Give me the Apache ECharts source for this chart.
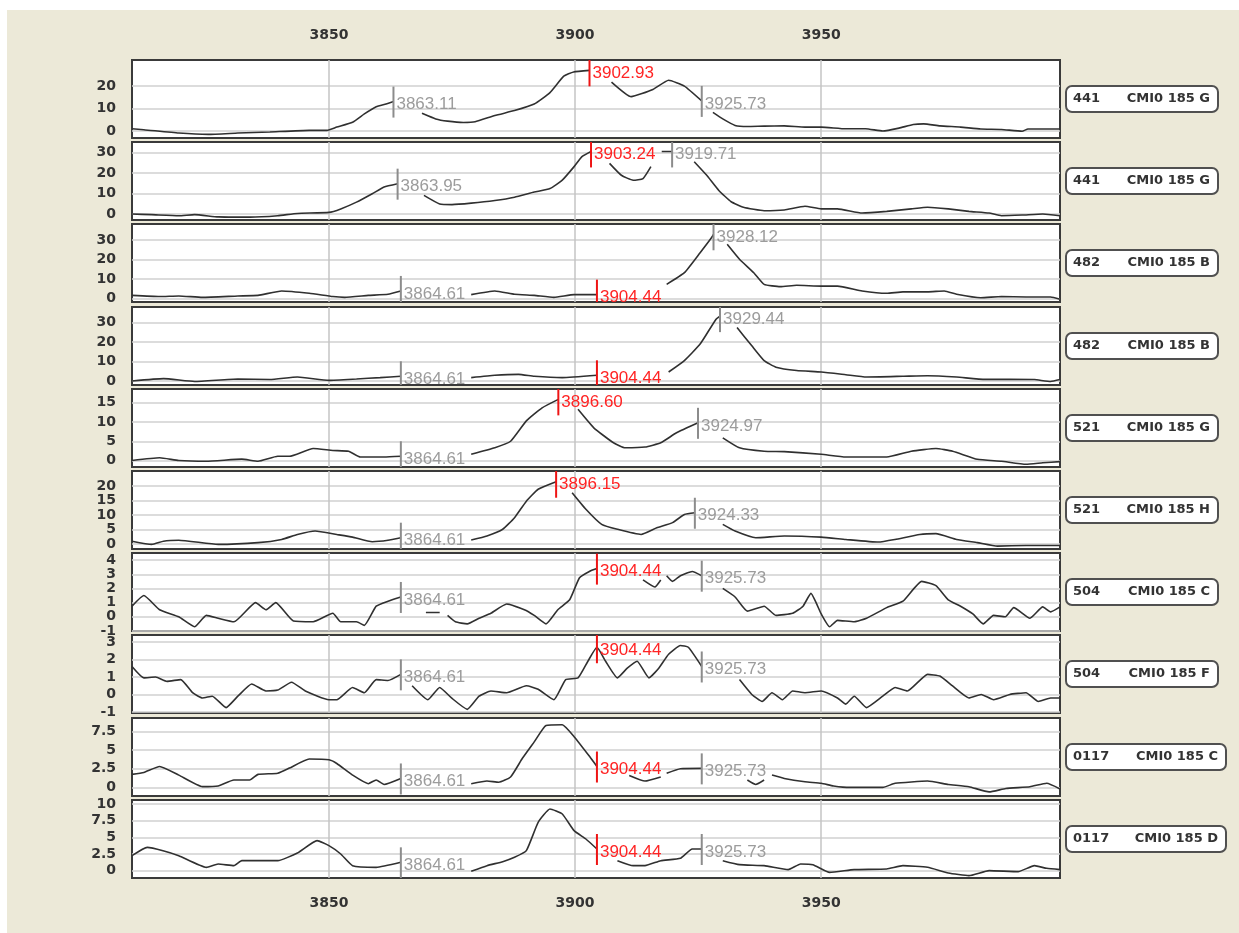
<!DOCTYPE html>
<html><head><meta charset="utf-8">
<script src="https://cdn.jsdelivr.net/npm/echarts@6/dist/echarts.min.js"></script>
<style>html,body{margin:0;padding:0;background:#fff}#c{width:1239px;height:933px}</style>
</head><body><div id="c"></div><script>
// ---------- DATA ----------
const X_TICKS = [3850, 3900, 3950];

const P1_X = [3810,3812.4,3819.5,3825.5,3831.5,3838,3846,3849.6,3851.6,3854.8,3857.2,3859.6,3861.6,3863.11,3866,3868.9,3871.7,3874.1,3877.3,3879.7,3883.7,3887.7,3891.7,3894.9,3897.7,3899.7,3902.93,3905,3907.4,3911.4,3915.8,3919,3922.2,3925.73,3927,3928,3930,3932.5,3935,3938.4,3942.5,3946.7,3950,3955,3959,3962.5,3965.8,3968.7,3970.8,3974.1,3978.3,3982.4,3986.6,3990.8,3992,3998.5];
const P1_Y = [1.0,0.6,-0.9,-1.5,-0.9,-0.4,0.3,0.3,1.75,3.9,7.6,10.8,12.0,13.1,null,7.9,5.4,4.4,3.8,4.1,6.9,9.1,12.0,17.1,24.4,26.3,27.0,null,21.8,15.3,18.5,22.6,20.0,13.4,null,8.3,5.4,2.5,2.0,2.2,2.3,1.75,1.75,1.0,1.0,0,1.3,2.9,3.2,2.3,1.75,0.9,0.7,-0.1,0.9,0.9];

const P2_X = [3810,3814,3819.5,3822.7,3827.5,3834,3839.6,3843.6,3850,3852.4,3855.6,3858.8,3861.2,3863.95,3866,3869.3,3872.5,3875,3878.9,3883.7,3887.7,3891.7,3894.9,3897.4,3899.8,3901.4,3903.24,3905,3907,3909.4,3911.8,3913.8,3915.4,3916.5,3917.6,3919.71,3922,3924.2,3926.7,3929.2,3931.7,3934.2,3938.4,3942.5,3946.7,3950,3953.3,3958.3,3963.3,3968.3,3971.6,3975.8,3980,3984.1,3986.6,3990.8,3995,3998.5];
const P2_Y = [0,-0.3,-0.8,-0.3,-1.4,-1.5,-0.8,0.3,0.8,2.5,5.8,9.9,13.2,14.8,null,9.1,4.9,4.6,5.3,6.6,8.2,10.7,12.4,16.5,23.1,28.0,30.5,null,24.7,18.9,16.5,17.3,23.1,null,30.5,30.5,null,25.5,19,11.5,6,3.3,1.6,2.0,3.8,2.5,2.5,0.5,1.3,2.5,3.3,2.5,1.3,0.5,-0.8,-0.5,0,-0.8];

const P3_X = [3810,3815.6,3819.5,3824.3,3831.5,3835.6,3840.4,3846,3850.8,3853.2,3858,3862,3864.61,3870,3878.9,3883.7,3887.7,3891.7,3895.7,3899.8,3904.44,3912,3918.6,3922.2,3925.4,3927.7,3928.12,3929.5,3930.9,3933.4,3936.3,3938.4,3941.7,3945,3950,3953.3,3958.3,3963.3,3966.6,3971.6,3975,3977.5,3982.4,3986.6,3991.6,3996.6,3998.5];
const P3_Y = [1.5,0.9,1.2,0.5,1.2,1.5,3.8,2.6,0.9,0.5,1.5,2.1,3.8,null,1.9,3.8,2.1,1.5,0.5,1.9,1.9,null,7.2,13.2,23.5,31.2,33,null,27.8,20.1,13.2,7.2,6.0,6.7,6.3,6.3,3.8,2.6,3.3,3.3,3.8,2.1,0.3,0.9,0.7,0.7,-0.5];

const P4_X = [3810,3816.4,3822.7,3831.5,3838,3843.6,3850,3855.6,3860.4,3864.61,3870,3878.9,3883.7,3888.5,3891.7,3897.4,3904.44,3912,3919,3922.2,3925.4,3928.6,3929.44,3931,3932.9,3935.9,3938.4,3940.8,3945,3950,3955,3959.2,3966.6,3971.6,3977.5,3983.3,3988.3,3993.3,3996.6,3998.5];
const P4_Y = [0,1.2,-0.3,1.0,0.7,2.0,0.3,1.0,1.7,2.4,null,1.7,2.9,3.4,2.4,1.7,2.9,null,4.6,10.5,19.0,31.7,33.4,null,27.5,18.1,10.5,7.1,5.4,4.6,3.2,2.0,2.4,2.7,2.0,0.8,0.8,0.7,-0.3,0.7];

const P5_X = [3810,3815.6,3819.5,3825.1,3832.3,3835.6,3839.6,3842,3846.8,3850.8,3854,3856.4,3861.2,3864.61,3870,3878.9,3883.7,3886.9,3890.1,3893.3,3896.6,3898.5,3900.6,3903.8,3907.8,3910.2,3914.2,3917.4,3920.6,3924.97,3927,3930,3933.4,3938.4,3942.5,3950,3955,3963.3,3968.3,3973.3,3976.7,3981.7,3986.6,3991.6,3995,3998.5];
const P5_Y = [0,0.7,0,-0.2,0.35,-0.2,1.1,1.1,3.1,2.6,2.4,0.9,0.9,1.1,null,1.6,3.3,5.0,10.3,13.7,15.9,null,13.3,8.5,4.6,3.3,3.5,4.6,7.2,9.8,null,5.9,3.3,2.4,2.3,1.6,0.9,0.9,2.4,3.1,2.4,0.3,-0.2,-1.0,-0.6,-0.3];

const P6_X = [3810,3814,3816.4,3819.5,3827.5,3835.6,3840.4,3843.6,3847.2,3851.6,3854.8,3858.8,3862,3864.61,3870,3878.9,3882.1,3885.3,3887.7,3890.1,3892.5,3896.15,3898,3899.4,3902.2,3905.4,3908.6,3913.4,3916.6,3919.8,3922.2,3924.33,3927,3930,3932.5,3936.7,3942.5,3950,3955,3961.6,3965,3970,3973.3,3977.5,3981.7,3985.8,3991.6,3998.5];
const P6_Y = [1.0,-0.1,1.0,1.3,-0.1,0.5,1.6,3.3,4.5,3.3,2.4,0.8,1.3,2.2,null,1.4,2.8,5.1,9.1,14.8,18.9,21.5,null,17.7,12.0,6.8,5.1,3.3,5.6,7.4,10.2,10.8,null,6.8,4.5,2.2,2.8,2.4,1.6,0.7,1.6,3.3,3.6,1.6,0.5,-0.7,-0.5,-0.5];

const P7_X = [3810,3812.4,3815.6,3819.5,3822.7,3825.1,3827.5,3830.7,3835.1,3837.2,3839.2,3842.8,3846.8,3850.8,3852.4,3855.6,3857.2,3859.6,3862,3864.61,3867,3869.7,3872.5,3873.3,3874.1,3875.7,3878.1,3880.5,3882.9,3886.1,3889.7,3891.7,3894.1,3896.5,3898.9,3900.9,3902.9,3904.44,3910,3913.8,3916.2,3917.4,3918,3918.6,3919.8,3921.4,3923.8,3925.73,3928,3930,3932.5,3935,3938.4,3940.8,3944.2,3946.3,3947.9,3950,3951.7,3953.3,3956.7,3959.2,3963.3,3966.6,3970.4,3973.3,3975.8,3978.3,3980.8,3982.9,3985,3987.4,3989.1,3992.4,3995,3996.6,3998.5];
const P7_Y = [0.75,1.5,0.5,0,-0.7,0.1,-0.1,-0.35,1.0,0.5,1.0,-0.3,-0.35,0.25,-0.35,-0.35,-0.6,0.75,1.1,1.4,null,0.3,0.3,null,0.1,-0.35,-0.5,-0.1,0.25,0.9,0.5,0.1,-0.5,0.5,1.2,2.75,3.2,3.4,null,2.6,2.1,2.6,null,2.9,2.5,2.9,3.2,2.9,null,2.0,1.4,0.4,0.75,0.1,0.25,0.75,1.65,0.2,-0.7,-0.25,-0.35,-0.1,0.65,1.1,2.5,2.2,1.2,0.75,0.2,-0.5,0.1,0,0.65,-0.1,0.7,0.35,0.7];

const P8_X = [3810,3812.4,3814.8,3817.1,3819.9,3822.3,3824.3,3826.3,3829.1,3831.5,3834.3,3837.2,3839.6,3842.4,3845.2,3850,3851.6,3854.8,3857.2,3859.6,3862,3864.61,3865.7,3866.9,3870.1,3872.5,3874.9,3878.1,3880.5,3882.9,3886.1,3890.1,3892.5,3895.7,3898.1,3900.6,3902.6,3904.44,3906.2,3908.6,3910.6,3912.6,3915,3917,3919,3921.4,3923,3925.73,3930,3933.4,3935.9,3938,3940,3942.1,3944.2,3946.7,3950,3953.3,3955,3956.7,3959.2,3962.5,3965,3967.5,3971.6,3974.1,3976.6,3980,3982.5,3985,3988.3,3991.6,3994.1,3996.6,3998.5];
const P8_Y = [1.6,0.95,1.0,0.75,0.85,0.1,-0.2,-0.1,-0.75,-0.1,0.6,0.2,0.25,0.7,0.2,-0.3,-0.3,0.4,0.1,0.85,0.8,1.15,null,0.5,-0.3,0.4,-0.2,-0.85,-0.1,0.2,0.1,0.5,0.3,-0.3,0.85,0.95,1.9,2.7,1.9,0.95,1.5,1.9,0.95,1.5,2.3,2.8,2.7,1.6,null,0.85,0,-0.4,0.1,-0.3,0.2,0.1,0.2,-0.2,-0.55,-0.1,-0.75,-0.1,0.4,0.2,1.15,1.05,0.5,-0.2,0,-0.3,0,0.1,-0.4,-0.2,-0.2];

const P9_X = [3810,3812.4,3815.6,3819.5,3824.3,3827.5,3830.7,3833.9,3835.6,3839.6,3842,3846,3850,3851.6,3854.8,3858,3859.6,3861.2,3864.61,3870,3878.9,3882.1,3884.5,3886.9,3889.3,3891.7,3894.1,3897.4,3899.8,3903,3904.44,3908,3911,3914.2,3917.4,3918,3918.6,3921.4,3925.73,3930,3935,3936.7,3938.4,3939.2,3940,3942.5,3946.7,3950,3952.5,3955.8,3962.5,3965,3971.6,3975.8,3980,3984.1,3987.5,3992.4,3995.8,3998.5];
const P9_Y = [1.75,2.0,2.8,1.65,0.1,0.2,1.0,1.0,1.75,1.9,2.6,3.8,3.7,3.2,1.65,0.5,1.0,0.4,1.2,null,0.5,0.85,0.7,1.4,3.9,6.1,8.3,8.4,6.8,4.1,2.8,null,1.6,0.85,1.4,null,1.9,2.5,2.55,null,1.0,0.4,1.0,null,1.65,1.2,0.75,0.55,0.2,0,0,0.55,0.85,0.4,0.1,-0.6,-0.15,0.1,0.55,-0.2];

const P10_X = [3810,3813.1,3816.3,3819.5,3825.1,3827.5,3830.7,3832.3,3835.6,3839.6,3843.6,3847.6,3850,3852.4,3854.8,3859.6,3864.61,3870,3878.9,3882.1,3885.3,3887.7,3890.1,3892.5,3894.9,3897.4,3899.8,3902.2,3904.44,3906,3908.6,3911.8,3914.2,3917.4,3921.4,3923.8,3925.73,3927,3930,3933.4,3938.4,3943.3,3945.8,3948.3,3951.7,3956.7,3963.3,3966.6,3971.6,3975.8,3980,3984.1,3990,3993.3,3995.8,3998.5];
const P10_Y = [2.25,3.5,3.0,2.25,0.5,1.0,0.75,1.5,1.5,1.5,2.65,4.5,3.75,2.5,0.75,0.5,1.25,null,-0.1,0.75,1.35,2.0,3.0,7.25,9.25,8.5,6.0,4.75,3.25,null,1.5,0.75,0.75,1.5,1.85,3.25,3.25,null,1.5,0.9,0.75,0.15,1.0,0.9,-0.25,0.15,0.25,0.75,0.5,-0.35,-0.75,0,-0.15,0.75,0.35,0.15];

// markers: [x position, curve value, 1 = red / 0 = gray]
const P1_MARKS = [[3863.11,13.1,0],[3902.93,27.0,1],[3925.73,13.4,0]];
const P2_MARKS = [[3863.95,14.8,0],[3903.24,30.5,1],[3919.71,30.5,0]];
const P3_MARKS = [[3864.61,3.8,0],[3904.44,1.9,1],[3928.12,33,0]];
const P4_MARKS = [[3864.61,2.4,0],[3904.44,2.9,1],[3929.44,33.4,0]];
const P5_MARKS = [[3864.61,1.1,0],[3896.60,15.9,1],[3924.97,9.8,0]];
const P6_MARKS = [[3864.61,2.2,0],[3896.15,21.5,1],[3924.33,10.8,0]];
const P7_MARKS = [[3864.61,1.4,0],[3904.44,3.4,1],[3925.73,2.9,0]];
const P8_MARKS = [[3864.61,1.15,0],[3904.44,2.7,1],[3925.73,1.6,0]];
const P9_MARKS = [[3864.61,1.2,0],[3904.44,2.8,1],[3925.73,2.55,0]];
const P10_MARKS = [[3864.61,1.25,0],[3904.44,3.25,1],[3925.73,3.25,0]];

const Y_TICKS = [[0,10,20],[0,10,20,30],[0,10,20,30],[0,10,20,30],[0,5,10,15],[0,5,10,15,20],[-1,0,1,2,3,4],[-1,0,1,2,3],[0,2.5,5,7.5],[0,2.5,5,7.5,10]];
const Y_RANGES = [[-3.1,31.6],[-2.9,35.1],[-1.9,38.3],[-2.1,38.1],[-1.7,18.6],[-1.7,25.2],[-1.0,4.5],[-1.06,3.4],[-1.15,9.3],[-1.1,10.6]];
const SAMPLE_IDS = ['441','441','482','482','521','521','504','504','0117','0117'];
const SAMPLE_NAMES = ['CMI0 185 G','CMI0 185 G','CMI0 185 B','CMI0 185 B','CMI0 185 G','CMI0 185 H','CMI0 185 C','CMI0 185 F','CMI0 185 C','CMI0 185 D'];

const XS = [P1_X,P2_X,P3_X,P4_X,P5_X,P6_X,P7_X,P8_X,P9_X,P10_X];
const YS = [P1_Y,P2_Y,P3_Y,P4_Y,P5_Y,P6_Y,P7_Y,P8_Y,P9_Y,P10_Y];
const MARKS = [P1_MARKS,P2_MARKS,P3_MARKS,P4_MARKS,P5_MARKS,P6_MARKS,P7_MARKS,P8_MARKS,P9_MARKS,P10_MARKS];

// ---------- LAYOUT ----------
const GRID_LEFT = 132, GRID_W = 928, GRID_H = 78;
const GRID_TOPS = [60,142,224,307,389,471,553,635,718,800];
const AXIS_FONT = 'DejaVu Sans';

const chart = echarts.init(document.getElementById('c'), null, {renderer:'canvas'});
const grids = [], xAxes = [], yAxes = [], series = [], graphics = [];

graphics.push({type:'rect', shape:{x:0,y:0,width:1239,height:10}, style:{fill:'#fff'}, silent:true});
graphics.push({type:'rect', shape:{x:0,y:0,width:7,height:933}, style:{fill:'#fff'}, silent:true});

function renderMarker(params, api){
  const xv = api.value(0);
  const p = api.coord([xv, api.value(1)]);
  const red = api.value(2) === 1;
  const txtCol = red ? '#ff2424' : '#9c9c9c';
  const lnCol = red ? '#ee1414' : '#8c8c8c';
  return {type:'group', children:[
    {type:'line', shape:{x1:p[0], y1:p[1]-15, x2:p[0], y2:p[1]+16}, style:{stroke:lnCol, lineWidth:2}},
    {type:'text', x:p[0]+3, y:p[1]+3, style:{text: xv.toFixed(2), fill:txtCol, font:'17px "Liberation Sans"', align:'left', verticalAlign:'middle', textAlign:'left', textVerticalAlign:'middle'}}
  ]};
}

for (let i = 0; i < 10; i++) {
  grids.push({left:GRID_LEFT, top:GRID_TOPS[i], width:GRID_W, height:GRID_H, show:true, backgroundColor:'#fff', borderColor:'#3a3a3a', borderWidth:2, containLabel:false});
  const showX = (i === 0 || i === 9);
  xAxes.push({type:'value', gridIndex:i, min:3810, max:3998.5, position: i === 0 ? 'top' : 'bottom',
    axisLine:{show:false}, axisTick:{show:false, customValues:X_TICKS},
    axisLabel:{show:showX, customValues:X_TICKS, formatter: v => String(v), margin:18, color:'#333', fontSize:14, fontWeight:'bold', fontFamily:AXIS_FONT},
    splitLine:{show:true, lineStyle:{color:'#c4c4c4', width:1.5}}});
  yAxes.push({type:'value', gridIndex:i, min:Y_RANGES[i][0], max:Y_RANGES[i][1],
    axisLine:{show:false}, axisTick:{show:false, customValues:Y_TICKS[i]},
    axisLabel:{customValues:Y_TICKS[i], formatter: v => String(v), margin:16, color:'#333', fontSize:14, fontWeight:'bold', fontFamily:AXIS_FONT},
    splitLine:{show:true, lineStyle:{color:'#d0d0d0', width:1.5}}});
  const data = XS[i].map((x, k) => [x, YS[i][k]]);
  series.push({type:'line', xAxisIndex:i, yAxisIndex:i, data, symbol:'none', connectNulls:false, smooth:0.15,
    lineStyle:{color:'#303030', width:1.6}, clip:true, silent:true, z:3});
  series.push({type:'custom', xAxisIndex:i, yAxisIndex:i, coordinateSystem:'cartesian2d', clip:true, silent:true, z:4,
    data: MARKS[i].map(m => [m[0], m[1], m[2]]), renderItem: renderMarker});
  // sample label box
  const cy = GRID_TOPS[i] + GRID_H / 2;
  const bw = SAMPLE_IDS[i].length > 3 ? 160 : 152;
  graphics.push({type:'rect', shape:{x:1066, y:cy-13, width:bw, height:26, r:6}, style:{fill:'#fff', stroke:'#505050', lineWidth:2}, silent:true});
  graphics.push({type:'text', x:1073, y:cy, style:{text:SAMPLE_IDS[i], font:'bold 13px "DejaVu Sans"', fill:'#333', align:'left', verticalAlign:'middle', textAlign:'left', textVerticalAlign:'middle'}, silent:true});
  graphics.push({type:'text', x:1066+bw-8, y:cy, style:{text:SAMPLE_NAMES[i], font:'bold 13px "DejaVu Sans"', fill:'#333', align:'right', verticalAlign:'middle', textAlign:'right', textVerticalAlign:'middle'}, silent:true});
}

chart.setOption({
  backgroundColor:'#ECE9D8',
  animation:false,
  grid:grids, xAxis:xAxes, yAxis:yAxes, series, graphic:graphics
});
</script></body></html>
